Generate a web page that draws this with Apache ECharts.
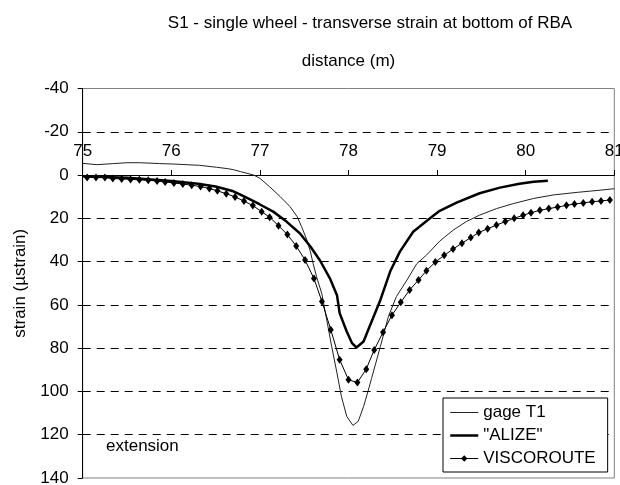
<!DOCTYPE html>
<html>
<head>
<meta charset="utf-8">
<script src="https://cdn.jsdelivr.net/npm/echarts@6/dist/echarts.min.js"></script>
<style>
html,body{margin:0;padding:0;background:#fff;}
#chart{width:620px;height:485px;}
</style>
</head>
<body>
<div id="chart"></div>
<script>
// ---- data ----
var titleText = 'S1 - single wheel - transverse strain at bottom of RBA';
var xAxisName = 'distance (m)';
var yAxisName = 'strain (\u00b5strain)';
var noteText = 'extension';
var seriesNames = ['gage T1', '"ALIZE"', 'VISCOROUTE'];

var gageX = [75.00,75.16,75.35,75.50,75.65,75.87,76.02,76.32,76.51,76.63,76.70,76.78,76.93,77.00,77.11,77.23,77.34,77.42,77.47,77.53,77.57,77.60,77.64,77.70,77.75,77.81,77.87,77.92,77.98,78.05,78.11,78.17,78.22,78.26,78.36,78.45,78.54,78.66,78.77,78.88,79.03,79.18,79.33,79.48,79.67,79.86,80.09,80.31,80.58,80.84,81.00];
var gageY = [-5.4,-4.8,-5.3,-5.7,-5.7,-5.3,-5.1,-4.5,-3.6,-3.0,-2.5,-1.6,0.0,1.5,5.4,10.0,14.6,19.2,23.8,30.0,35.4,40.8,47.0,55.0,66.0,79.2,91.5,102.3,111.5,115.7,113.8,107.0,100.0,94.0,79.2,65.4,56.2,48.5,41.0,37.0,30.5,25.5,21.5,18.5,15.5,13.2,10.8,9.2,8.0,7.0,6.3];

var alizeX = [75.00,75.50,76.00,76.30,76.50,76.70,76.78,76.90,77.00,77.15,77.30,77.45,77.57,77.68,77.79,77.87,77.90,77.98,78.04,78.09,78.17,78.23,78.36,78.47,78.58,78.73,78.92,79.03,79.22,79.48,79.71,79.93,80.09,80.25];
var alizeY = [0.5,1.3,2.8,4.0,5.3,7.5,9.0,11.5,13.6,16.9,21.5,26.9,33.0,39.6,47.7,55.5,63.8,72.3,77.7,79.7,76.9,70.8,57.7,44.6,35.4,26.2,20.0,16.5,12.7,8.4,5.8,4.0,3.1,2.6];

var viscoX = [75.05,75.15,75.25,75.34,75.44,75.54,75.64,75.74,75.84,75.93,76.03,76.13,76.23,76.33,76.43,76.52,76.62,76.72,76.82,76.92,77.02,77.11,77.21,77.31,77.41,77.51,77.61,77.70,77.80,77.90,78.00,78.10,78.20,78.29,78.39,78.49,78.59,78.69,78.79,78.88,78.98,79.08,79.18,79.28,79.38,79.47,79.57,79.67,79.77,79.87,79.97,80.06,80.16,80.26,80.36,80.46,80.55,80.65,80.75,80.85,80.95];
var viscoY = [1.1,1.1,1.1,1.6,1.8,2.0,2.2,2.4,2.8,3.2,3.7,4.1,4.7,5.3,6.2,7.3,8.6,10.1,12.0,14.1,16.9,19.5,23.4,27.5,32.8,39.3,47.8,58.4,71.5,85.3,94.6,95.9,89.7,80.8,72.6,64.8,58.8,53.1,48.5,44.2,40.2,37.1,34.2,31.5,28.9,26.6,24.8,23.1,21.5,20.0,18.6,17.4,16.3,15.5,14.8,14.0,13.4,12.9,12.3,12.0,11.5];

var xMin = 75, xMax = 81, xStep = 1;
var yMin = -40, yMax = 140, yStep = 20;

function pairs(xs, ys) { return xs.map(function (x, i) { return [x, ys[i]]; }); }

var FONT = "'Liberation Sans', Arial, sans-serif";
var GRID_TOP = 88.5, GRID_BOTTOM = 7, H = 485;
// distance (px) from grid top down to the value 0, so the x axis sits on y = 0
var plotH = H - GRID_TOP - GRID_BOTTOM;
var zeroOffset = plotH * (0 - yMin) / (yMax - yMin);

var transparentItem = {color: 'rgba(0,0,0,0)', borderWidth: 0, opacity: 0};

var chart = echarts.init(document.getElementById('chart'), null, {renderer: 'canvas'});
chart.setOption({
  animation: false,
  backgroundColor: '#ffffff',
  textStyle: {fontFamily: FONT, color: '#000'},
  grid: {
    left: 82.7, right: 5.7, top: GRID_TOP, bottom: GRID_BOTTOM,
    show: true, borderColor: '#808080', borderWidth: 1,
    containLabel: false, outerBoundsMode: 'none'
  },
  graphic: [
    {type: 'text', x: 370, y: 23.5, silent: true,
     style: {text: titleText, align: 'center', verticalAlign: 'middle', fontSize: 17, fontFamily: FONT, fill: '#000'}},
    {type: 'text', x: 106, y: 446.7, silent: true,
     style: {text: noteText, align: 'left', verticalAlign: 'middle', fontSize: 17, fontFamily: FONT, fill: '#000'}}
  ],
  xAxis: {
    type: 'value', min: xMin, max: xMax, interval: xStep,
    position: 'top', offset: -zeroOffset,
    name: xAxisName, nameLocation: 'middle', nameGap: 105,
    nameTextStyle: {fontSize: 17, fontFamily: FONT, color: '#000'},
    axisLine: {show: true, onZero: false, lineStyle: {color: '#000', width: 1}},
    axisTick: {show: true, inside: false, length: 5, lineStyle: {color: '#000'}},
    axisLabel: {fontSize: 17, fontFamily: FONT, color: '#000', margin: 15, showMinLabel: true, showMaxLabel: true},
    splitLine: {show: false}
  },
  yAxis: {
    type: 'value', min: yMin, max: yMax, interval: yStep, inverse: true,
    name: yAxisName, nameLocation: 'middle', nameGap: 54,
    nameTextStyle: {fontSize: 17, fontFamily: FONT, color: '#000'},
    axisLine: {show: true, onZero: false, lineStyle: {color: '#000', width: 1}},
    axisTick: {show: true, inside: false, length: 5, lineStyle: {color: '#000'}},
    axisLabel: {fontSize: 17, fontFamily: FONT, color: '#000', margin: 14},
    splitLine: {show: true, showMinLine: false, showMaxLine: false,
      lineStyle: {color: '#000', width: 1, type: [8, 6]}}
  },
  legend: {
    orient: 'vertical', left: 443, top: 398,
    padding: [6, 12, 5, 6],
    itemWidth: 28, itemHeight: 8, itemGap: 6,
    backgroundColor: '#ffffff', borderColor: '#000', borderWidth: 1, borderRadius: 0,
    textStyle: {fontSize: 17, fontFamily: FONT, color: '#000', lineHeight: 17},
    data: [
      {name: seriesNames[0], itemStyle: transparentItem, lineStyle: {width: 1, color: '#222'}},
      {name: seriesNames[1], itemStyle: transparentItem, lineStyle: {width: 2.5, color: '#000'}},
      {name: seriesNames[2], lineStyle: {width: 1, color: '#000'}}
    ]
  },
  series: [
    {name: seriesNames[0], type: 'line', data: pairs(gageX, gageY),
     symbol: 'none', showSymbol: false, smooth: false,
     lineStyle: {color: '#222', width: 1}, itemStyle: {color: '#222'}, z: 3},
    {name: seriesNames[1], type: 'line', data: pairs(alizeX, alizeY),
     symbol: 'none', showSymbol: false, smooth: false,
     lineStyle: {color: '#000', width: 2.5}, itemStyle: {color: '#000'}, z: 4},
    {name: seriesNames[2], type: 'line', data: pairs(viscoX, viscoY),
     symbol: 'diamond', symbolSize: [6, 8], showSymbol: true,
     lineStyle: {color: '#000', width: 1}, itemStyle: {color: '#000'}, z: 5}
  ]
});
</script>
</body>
</html>
